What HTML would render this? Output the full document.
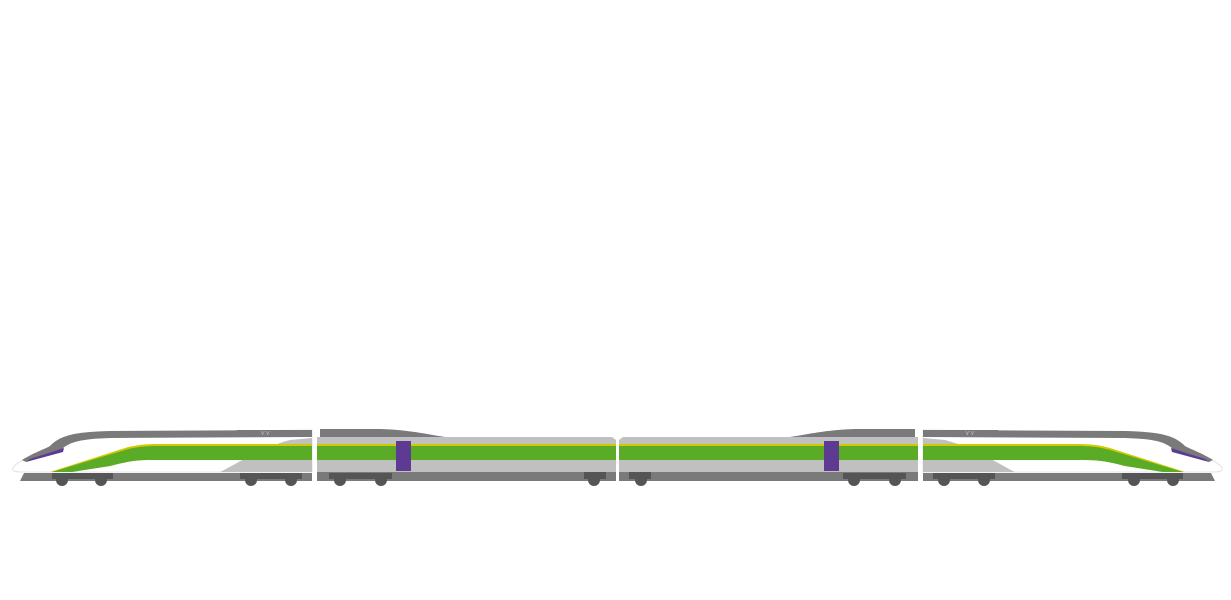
<!DOCTYPE html>
<html><head><meta charset="utf-8"><style>html,body{margin:0;padding:0;background:#fff}svg{display:block}</style></head>
<body>
<svg width="1231" height="600" viewBox="0 0 1231 600" xmlns="http://www.w3.org/2000/svg">
<defs>
<g id="half">
  <path d="M24,473 L312,473 L312,481 L20,481 Z" fill="#7a7a7a"/>
  <path d="M13,468 C16,462 30,456 48,449 C60,440 70,434 110,432 L312,430 L312,472 L22,472 C14,472 11,470 13,468 Z" fill="#ffffff" stroke="#e4e4e4" stroke-width="1"/>
  <path d="M22,460 C35,452 45,449 50,446 C60,436 72,432 110,431 L312,430 L312,437 L110,438 C80,439 70,442 62,449 C50,454 35,458 26,462 Z" fill="#7a7a7a"/>
  <path d="M26,462 L30,459 L64,448 L63,452 Z" fill="#5e3b92"/>
  <path d="M220,472 C240,462 260,448 290,440 L312,438 L312,472 Z" fill="#c0c0c0"/>
  <path d="M50,472 L125,448 C135,445 145,444 160,444 L312,444 L312,460 L150,460 C135,460 125,462 110,466 L70,472 Z" fill="#d4c800"/>
  <path d="M52,472 L125,450 C135,447 145,446 160,446 L312,446 L312,460 L150,460 C135,460 125,462 110,466 L72,472 Z" fill="#5aab26"/>
  <path d="M237,430 L312,430 L312,437 L237,437 Z" fill="#7a7a7a"/>
  <text x="260" y="435" font-family="Liberation Sans, sans-serif" font-size="7" fill="#bbb">⋎⋎</text>
  <rect x="52" y="473" width="61" height="6" fill="#555"/>
  <rect x="240" y="473" width="62" height="6" fill="#555"/>
  <circle cx="62" cy="480" r="6" fill="#555"/><circle cx="101" cy="480" r="6" fill="#555"/>
  <circle cx="251" cy="480" r="6" fill="#555"/><circle cx="291" cy="480" r="6" fill="#555"/>
  <rect x="317" y="472" width="299" height="9" fill="#7a7a7a"/>
  <path d="M320,429 L380,429 C410,430 425,434 445,437 L320,437 Z" fill="#7a7a7a"/>
  <path d="M317,437 L612,437 L616,440 L616,472 L317,472 Z" fill="#c0c0c0"/>
  <rect x="317" y="444" width="299" height="2" fill="#d4c800"/>
  <rect x="317" y="446" width="299" height="14" fill="#5aab26"/>
  <rect x="396" y="441" width="15" height="30" fill="#5e3b92"/>
  <rect x="329" y="473" width="63" height="6" fill="#555"/>
  <rect x="584" y="472" width="22" height="7" fill="#555"/>
  <circle cx="340" cy="480" r="6" fill="#555"/><circle cx="381" cy="480" r="6" fill="#555"/>
  <circle cx="594" cy="480" r="6" fill="#555"/>
</g>
</defs>
<use href="#half"/>
<use href="#half" transform="translate(1235,0) scale(-1,1)"/>
</svg>
</body></html>
